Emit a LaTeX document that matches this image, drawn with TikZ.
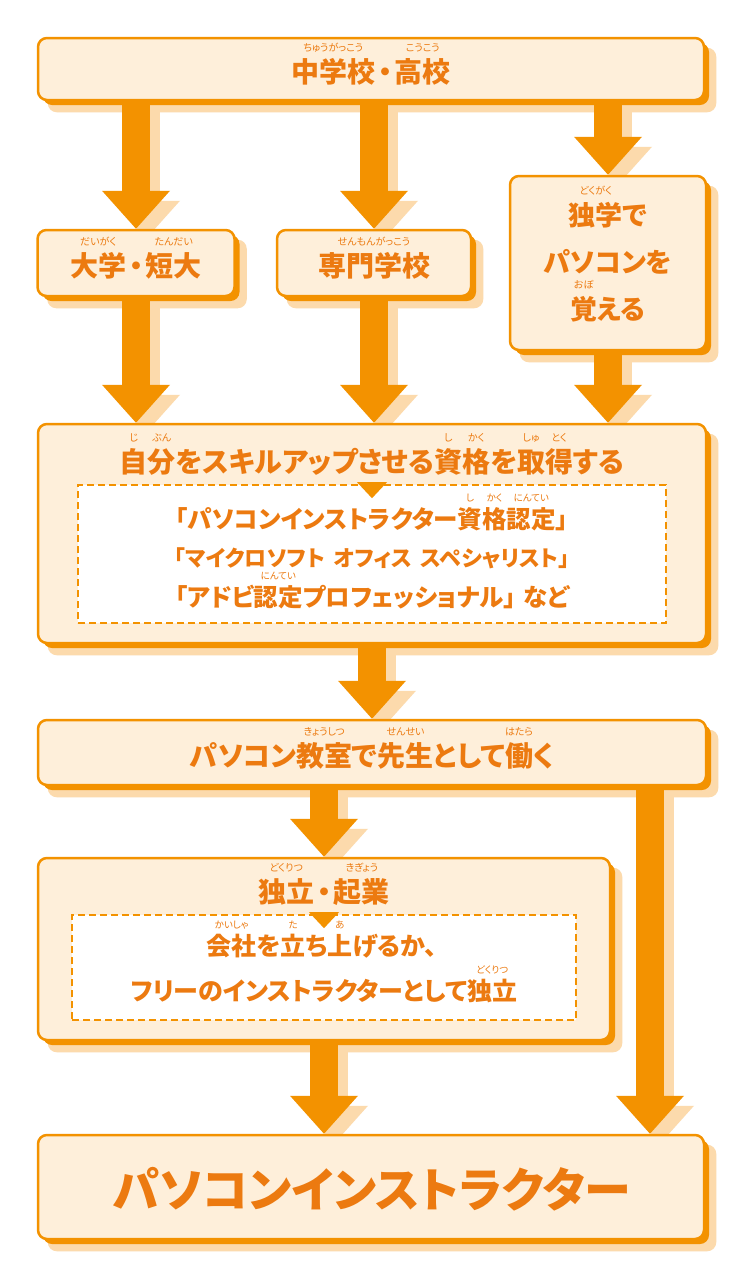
\documentclass[tikz,border=0pt]{standalone}
\usepackage{fontspec}
\newfontfamily\jp{Noto Sans CJK JP}[RawFeature=+palt]
\usetikzlibrary{shadows,calc}
\definecolor{org}{RGB}{243,146,0}
\definecolor{txo}{RGB}{236,122,16}
\definecolor{cream}{RGB}{254,239,218}
\definecolor{peach}{RGB}{252,218,172}
\pgfdeclarelayer{shadowl}\pgfdeclarelayer{arrowl}
\pgfsetlayers{shadowl,arrowl,main}
\newcommand\rbsz{10pt}
\newcommand\rbraise{31pt}
\newcommand\rb[2]{\leavevmode\setbox0\hbox{#1}\rlap{\hbox to\wd0{\hss\raisebox{\rbraise}[0pt][0pt]{\mdseries\fontsize{\rbsz}{\rbsz}\selectfont #2}\hss}}\box0}
\newcommand\ndot{\makebox[0.7em]{・}}
\tikzset{
 box/.style={draw=org, line width=2.5pt, fill=cream, rounded corners=9pt, inner sep=0pt,
   general shadow={fill=org, shadow xshift=5pt, shadow yshift=-5pt}},
 dbox/.style={draw=org, line width=1.6pt, dash pattern=on 7pt off 4pt, fill=white, inner sep=0pt},
 txt/.style={text=txo, font=\jp\bfseries\fontsize{28pt}{47pt}\selectfont, inner sep=0pt, align=center},
 stxt/.style={txt, font=\jp\bfseries\fontsize{24.5pt}{28pt}\selectfont},
 ashaft/.style={draw=org, line width=28pt},
 ashadow/.style={draw=peach, line width=28pt},
}
\newcommand\arr[2]{%
\begin{pgfonlayer}{arrowl}
\begin{scope}[transform canvas={shift={(10pt,-10pt)}}]
\draw[ashadow] (#1) -- ($(#2)+(0,-35)$);
\fill[peach] (#2) -- ++(-34,-38) -- ++(68,0) -- cycle;
\end{scope}
\draw[ashaft] (#1) -- ($(#2)+(0,-35)$);
\fill[org] (#2) -- ++(-34,-38) -- ++(68,0) -- cycle;
\end{pgfonlayer}}
\newcommand\bshadow[1]{%
\begin{pgfonlayer}{shadowl}
\fill[peach, rounded corners=9pt] ([shift={(11pt,-11pt)}]#1.north west) rectangle ([shift={(11pt,-11pt)}]#1.south east);
\end{pgfonlayer}}
\begin{document}
\begin{tikzpicture}[x=1pt,y=-1pt]
\useasboundingbox (0,0) rectangle (744,1280);
\begin{pgfonlayer}{shadowl}
\fill[white] (0,0) rectangle (744,1280);
\end{pgfonlayer}
% boxes
\node[box, minimum width=666pt, minimum height=62pt] (n1) at (371,69) {};
\node[box, minimum width=197pt, minimum height=66pt] (n2) at (136,263) {};
\node[box, minimum width=194pt, minimum height=66pt] (n3) at (374,263) {};
\node[box, minimum width=196pt, minimum height=174pt] (n4) at (608,263) {};
\node[box, minimum width=668pt, minimum height=219pt] (n5) at (372,533.5) {};
\node[box, minimum width=668pt, minimum height=65pt] (n6) at (372,752.5) {};
\node[box, minimum width=572pt, minimum height=182pt] (n7) at (324,949) {};
\node[box, minimum width=666pt, minimum height=104pt] (n8) at (371,1187) {};
\foreach \n in {n1,n2,n3,n4,n5,n6,n7,n8} {\bshadow{\n}}
% dashed inner boxes
\node[dbox, minimum width=588pt, minimum height=138pt] (d5) at (372,554) {};
\node[dbox, minimum width=504pt, minimum height=105pt] (d7) at (324,967.5) {};
\fill[org] ([yshift=2pt]d5.north) ++(-15,0) -- ++(30,0) -- ++(-15,16) -- cycle;
\fill[org] ([yshift=2pt]d7.north) ++(-15,0) -- ++(30,0) -- ++(-15,16) -- cycle;
% texts
\node[txt] (t1) at (371,72) {\rb{中学校}{ちゅうがっこう}\ndot\rb{高校}{こうこう}};
\node[txt] (t2) at (136,266) {\rb{大学}{だいがく}\ndot\rb{短大}{たんだい}};
\node[txt] (t3) at (374,266) {\rb{専門学校}{せんもんがっこう}};
\node[txt, font=\jp\bfseries\fontsize{27pt}{47pt}\selectfont] (t4) at (608,262) {\rb{独学}{どくがく}で\\パソコンを\\\rb{覚}{おぼ}える};
\node[txt] (t5) at (372,462) {\rb{自}{じ}\rb{分}{ぶん}をスキルアップさせる\rb{資}{し}\rb{格}{かく}を\rb{取}{しゅ}\rb{得}{とく}する};
\begin{scope}[every node/.style={stxt}]
\renewcommand\rbsz{9.5pt}\renewcommand\rbraise{27pt}
\node (l1) at (372,519) {「パソコンインストラクター\rb{資}{し}\rb{格}{かく}\rb{認定}{にんてい}」};
\node[font=\jp\bfseries\fontsize{22pt}{28pt}\selectfont] (l2) at (372,558) {「マイクロソフト\hspace{0.4em}オフィス\hspace{0.4em}スペシャリスト」};
\node (l3) at (372,597) {「アドビ\rb{認定}{にんてい}プロフェッショナル」\hspace{0.3em}など};
\node[font=\jp\bfseries\fontsize{25pt}{28pt}\selectfont] (l4) at (322,946) {\rb{会社}{かいしゃ}を\rb{立}{た}ち\rb{上}{あ}げるか、};
\node[font=\jp\bfseries\fontsize{25pt}{28pt}\selectfont] (l5) at (324,991) {フリーのインストラクターとして\rb{独立}{どくりつ}};
\end{scope}
\node[txt] (t6) at (372,756) {パソコン\rb{教室}{きょうしつ}で\rb{先生}{せんせい}として\rb{働}{はたら}く};
\node[txt] (t7) at (324,892) {\rb{独立}{どくりつ}\ndot\rb{起業}{きぎょう}};
\node[txt, font=\jp\bfseries\fontsize{47pt}{52pt}\selectfont] (t8) at (372,1189) {パソコンインストラクター};
% connectors
\coordinate (rx) at (650,0);
\arr{n1.south -| n2.north}{n2.north}
\arr{n1.south -| n3.north}{n3.north}
\arr{n1.south -| n4.north}{n4.north}
\arr{n2.south}{n5.north -| n2.south}
\arr{n3.south}{n5.north -| n3.south}
\arr{n4.south}{n5.north -| n4.south}
\arr{n5.south}{n6.north}
\arr{n6.south -| n7.north}{n7.north}
\arr{n6.south -| rx}{n8.north -| rx}
\arr{n7.south}{n8.north -| n7.south}
\end{tikzpicture}
\end{document}
